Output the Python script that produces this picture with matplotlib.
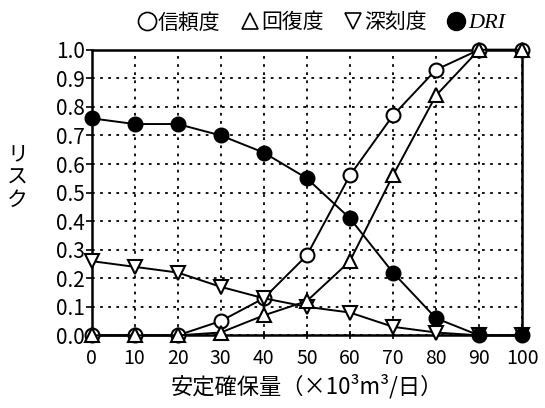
import numpy as np
from matplotlib import pyplot as plt
from matplotlib.lines import Line2D

plt.rcParams['font.family'] = ['Noto Sans CJK JP', 'DejaVu Sans']

# data
supply = [0, 10, 20, 30, 40, 50, 60, 70, 80, 90, 100]
reliability = [0.0, 0.0, 0.0, 0.05, 0.13, 0.28, 0.56, 0.77, 0.93, 1.0, 1.0]
resilience = [0.0, 0.0, 0.0, 0.01, 0.07, 0.12, 0.26, 0.56, 0.84, 1.0, 1.0]
severity = [0.26, 0.24, 0.22, 0.17, 0.13, 0.10, 0.08, 0.03, 0.01, 0.0, 0.0]
dri = [0.76, 0.74, 0.74, 0.70, 0.64, 0.55, 0.41, 0.22, 0.06, 0.0, 0.0]

xticks = [0, 10, 20, 30, 40, 50, 60, 70, 80, 90, 100]
yticks = [0.0, 0.1, 0.2, 0.3, 0.4, 0.5, 0.6, 0.7, 0.8, 0.9, 1.0]

fig = plt.figure(figsize=(5.45, 4.08), dpi=100)
ax = fig.add_axes([0.168, 0.178, 0.790, 0.700])

ms = 10
lw = 1.4
common = dict(color='black', linewidth=lw, markersize=ms, clip_on=False,
              markeredgewidth=1.5, markeredgecolor='black')
ax.plot(supply, reliability, marker='o', markerfacecolor='white', zorder=3, **common)
ax.plot(supply, severity, marker='v', markerfacecolor='white', zorder=4, **common)
ax.plot(supply, resilience, marker='^', markerfacecolor='white', zorder=5, **common)
ax.plot(supply, dri, marker='o', markerfacecolor='black', zorder=6, **common)

ax.set_xlim(0, 100)
ax.set_ylim(0, 1.0)
ax.set_xticks(xticks)
ax.set_yticks(yticks)
ax.set_yticklabels([f'{v:.1f}' for v in yticks], fontsize=15)
ax.set_xticklabels([str(v) for v in xticks], fontsize=14)
ax.tick_params(axis='x', direction='inout', length=6, width=1.2, pad=6)
ax.tick_params(axis='y', direction='out', length=4, width=1.2, pad=1)
ax.grid(True, color='black', linestyle=(0, (1.5, 3)), linewidth=1.3)
ax.set_axisbelow(True)
for spine in ax.spines.values():
    spine.set_linewidth(1.8)

ax.set_xlabel('安定確保量（×10³m³/日）', fontsize=16, labelpad=4)
fig.text(0.032, 0.565, 'リ\nス\nク', fontsize=15, ha='center', va='center',
         linespacing=1.05)

handles = [
    Line2D([], [], linestyle='none', marker='o', markersize=13, markerfacecolor='white',
           markeredgecolor='black', markeredgewidth=1.2),
    Line2D([], [], linestyle='none', marker='^', markersize=12, markerfacecolor='white',
           markeredgecolor='black', markeredgewidth=1.2),
    Line2D([], [], linestyle='none', marker='v', markersize=12, markerfacecolor='white',
           markeredgecolor='black', markeredgewidth=1.2),
    Line2D([], [], linestyle='none', marker='o', markersize=13, markerfacecolor='black',
           markeredgecolor='black'),
]
labels = ['信頼度', '回復度', '深刻度', 'DRI']
leg = fig.legend(handles, labels, loc='center', bbox_to_anchor=(0.59, 0.945), ncol=4,
                 frameon=False, fontsize=15, handlelength=0.8, handletextpad=0.15,
                 columnspacing=1.0)
leg.get_texts()[3].set_fontstyle('italic')
leg.get_texts()[3].set_family(['Liberation Serif'])
leg.get_texts()[3].set_fontsize(16)

fig.savefig('out.png', dpi=100)
